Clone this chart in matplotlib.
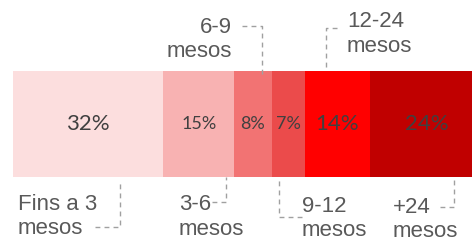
import matplotlib.pyplot as plt

# dades
categories = ["Fins a 3 mesos", "3-6 mesos", "6-9 mesos", "9-12 mesos", "12-24 mesos", "+24 mesos"]
values = [32, 15, 8, 7, 14, 24]
pct_labels = ["32%", "15%", "8%", "7%", "14%", "24%"]
label_top = ["Fins a 3", "3-6", "6-9", "9-12", "12-24", "+24"]
label_bottom = ["mesos", "mesos", "mesos", "mesos", "mesos", "mesos"]

colors = ["#FCDEDE", "#F8B2B2", "#F27373", "#EB4B4B", "#FF0000", "#C00000"]
pct_sizes = [16, 13, 13, 13, 16, 16]

W, H = 472, 242
fig = plt.figure(figsize=(W / 100, H / 100), dpi=100)

# barra apilada
ax = fig.add_axes([13 / W, (H - 177) / H, 459 / W, 106 / H])
left = 0
for v, c, t, fs in zip(values, colors, pct_labels, pct_sizes):
    ax.barh(0, v, left=left, height=1, color=c, edgecolor="none")
    ax.text(left + v / 2, 0, t, ha="center", va="center", fontsize=fs,
            family=["Lato", "DejaVu Sans"], color="#404040")
    left += v
ax.set_xlim(0, 97.6)
ax.set_ylim(-0.5, 0.5)
ax.axis("off")

# etiquetes i línies guia (coordenades en píxels)
ov = fig.add_axes([0, 0, 1, 1], facecolor="none")
ov.set_xlim(0, W)
ov.set_ylim(H, 0)
ov.axis("off")

# (x, alineació, línia base 1, línia base 2)
text_pos = [(18, "left", 210, 234), (179, "left", 210, 235), (232, "right", 33, 57),
            (302, "left", 212, 236), (347, "left", 27, 52), (393, "left", 213, 237)]
leaders = [([95, 120, 120], [227, 227, 181]),
           ([212, 226, 226], [202, 202, 177]),
           ([242, 262, 262], [26, 26, 74]),
           ([302, 279, 279], [217, 217, 177]),
           ([337, 326, 326], [28, 28, 71]),
           ([440, 454, 454], [207, 207, 177])]

for (x, ha, b1, b2), t1, t2 in zip(text_pos, label_top, label_bottom):
    ov.text(x, b1, t1, ha=ha, va="baseline", fontsize=16,
            family="Liberation Sans", color="#595959")
    ov.text(x, b2, t2, ha=ha, va="baseline", fontsize=16,
            family="Liberation Sans", color="#595959")

for xs, ys in leaders:
    ov.plot(xs, ys, color="#A0A0A0", lw=1, ls=(0, (3.5, 3)))

fig.savefig("out.png", dpi=100)
